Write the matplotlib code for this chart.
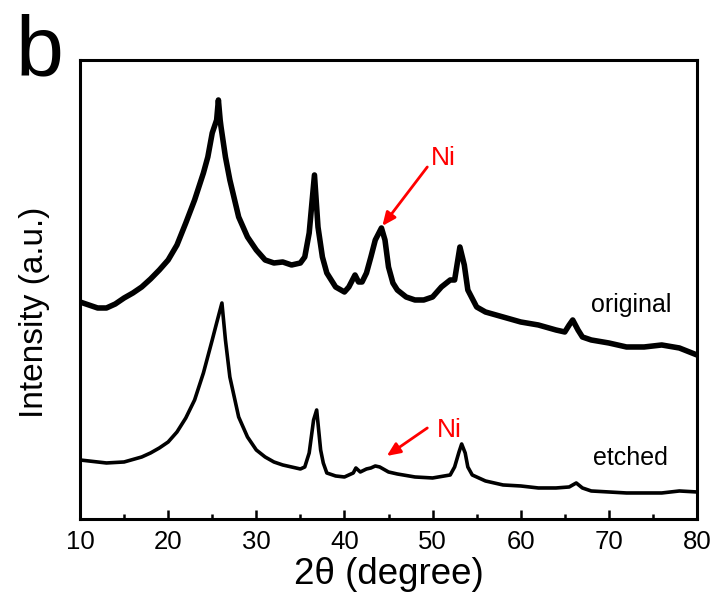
import matplotlib
matplotlib.use("Agg")
import matplotlib.pyplot as plt

# 2-theta positions (degree) and intensities (a.u.)
orig_2theta = [10, 11, 12, 13, 14, 15, 16, 17, 18, 19, 20, 21, 22, 23, 24, 24.5,
               25, 25.5, 25.7, 25.9, 26, 26.5, 27, 28, 29, 30, 31, 32, 33, 34, 35,
               35.5, 36, 36.6, 37, 37.5, 38, 39, 40, 40.5, 41.2, 41.6, 42, 42.5,
               43, 43.5, 44.2, 44.6, 45, 45.5, 46, 47, 48, 49, 50, 51, 52, 52.5,
               53.1, 53.6, 54, 55, 56, 58, 60, 62, 64, 65, 65.5, 65.9, 66.5, 67,
               68, 70, 72, 74, 76, 78, 80]
orig_int = [217, 214, 211, 211, 215, 221, 226, 232, 240, 249, 259, 274, 296, 319,
            346, 362, 386, 399, 419, 399, 392, 362, 339, 302, 282, 269, 259, 256,
            257, 254, 256, 262, 286, 344, 292, 262, 246, 232, 227, 232, 244, 237,
            237, 246, 262, 279, 291, 279, 252, 236, 229, 222, 219, 219, 222, 232,
            239, 239, 272, 254, 229, 212, 207, 202, 197, 194, 189, 187, 194, 199,
            189, 182, 179, 176, 172, 172, 174, 171, 164]

etch_2theta = [10, 12, 13, 15, 17, 18, 19, 20, 21, 22, 23, 24, 25, 25.5, 26.1,
               26.5, 27, 28, 29, 30, 31, 32, 33, 34, 35, 35.5, 36, 36.5, 36.85,
               37.3, 37.6, 38, 39, 40, 41, 41.3, 41.8, 42.5, 43, 43.5, 44, 45, 46,
               48, 50, 52, 52.5, 53, 53.3, 53.7, 54, 54.5, 55, 56, 58, 60, 62, 64,
               65.5, 66.3, 67, 68, 70, 72, 74, 76, 78, 80]
etch_int = [59, 57, 56, 57, 62, 66, 71, 77, 87, 101, 119, 146, 179, 196, 216,
            179, 142, 102, 82, 69, 62, 57, 54, 52, 50, 52, 66, 99, 109, 69, 56,
            46, 43, 42, 46, 51, 47, 50, 51, 53, 52, 47, 45, 42, 41, 44, 52, 67,
            75, 66, 52, 44, 42, 38, 34, 33, 31, 31, 32, 36, 31, 28, 27, 26, 26,
            26, 28, 27]

x_ticks = [10, 20, 30, 40, 50, 60, 70, 80]

plt.rcParams["font.family"] = ["Liberation Sans", "DejaVu Sans"]

fig = plt.figure(figsize=(7.17, 5.97), dpi=100)
ax = fig.add_axes([0.1116, 0.1307, 0.8605, 0.7688])

ax.plot(orig_2theta, orig_int, color="black", lw=4.0, solid_joinstyle="round")
ax.plot(etch_2theta, etch_int, color="black", lw=2.6, solid_joinstyle="round")

ax.set_xlim(10, 80)
ax.set_ylim(0, 459)
ax.set_xticks(x_ticks)
ax.set_xticks(range(15, 80, 10), minor=True)
ax.set_yticks([])
ax.tick_params(axis="x", which="major", direction="in", length=6.5, width=1.8,
               labelsize=18.5, pad=8)
ax.tick_params(axis="x", which="minor", direction="in", length=3.5, width=1.8)
for sp in ax.spines.values():
    sp.set_linewidth(2.2)

ax.set_xlabel("2θ (degree)", fontsize=26.5, labelpad=2)
ax.set_ylabel("Intensity (a.u.)", fontsize=24)
ax.yaxis.set_label_coords(-0.049, 0.451)

# labels and Ni markers
ax.text(72.5, 214, "original", fontsize=18, ha="center", va="center")
ax.text(72.5, 61, "etched", fontsize=18, ha="center", va="center")

ax.annotate("", xy=(44.3, 293), xytext=(49.4, 352),
            arrowprops=dict(arrowstyle="-|>,head_length=0.8,head_width=0.35",
                            color="red", lw=2, shrinkA=0, shrinkB=0))
ax.text(51.2, 361, "Ni", color="red", fontsize=19, ha="center", va="center")
ax.annotate("", xy=(44.8, 63), xytext=(49.4, 91),
            arrowprops=dict(arrowstyle="-|>,head_length=0.8,head_width=0.35",
                            color="red", lw=2, shrinkA=0, shrinkB=0))
ax.text(51.9, 89, "Ni", color="red", fontsize=19, ha="center", va="center")

fig.text(0.022, 0.873, "b", fontsize=62, ha="left", va="baseline")

fig.savefig("out.png", dpi=100)
